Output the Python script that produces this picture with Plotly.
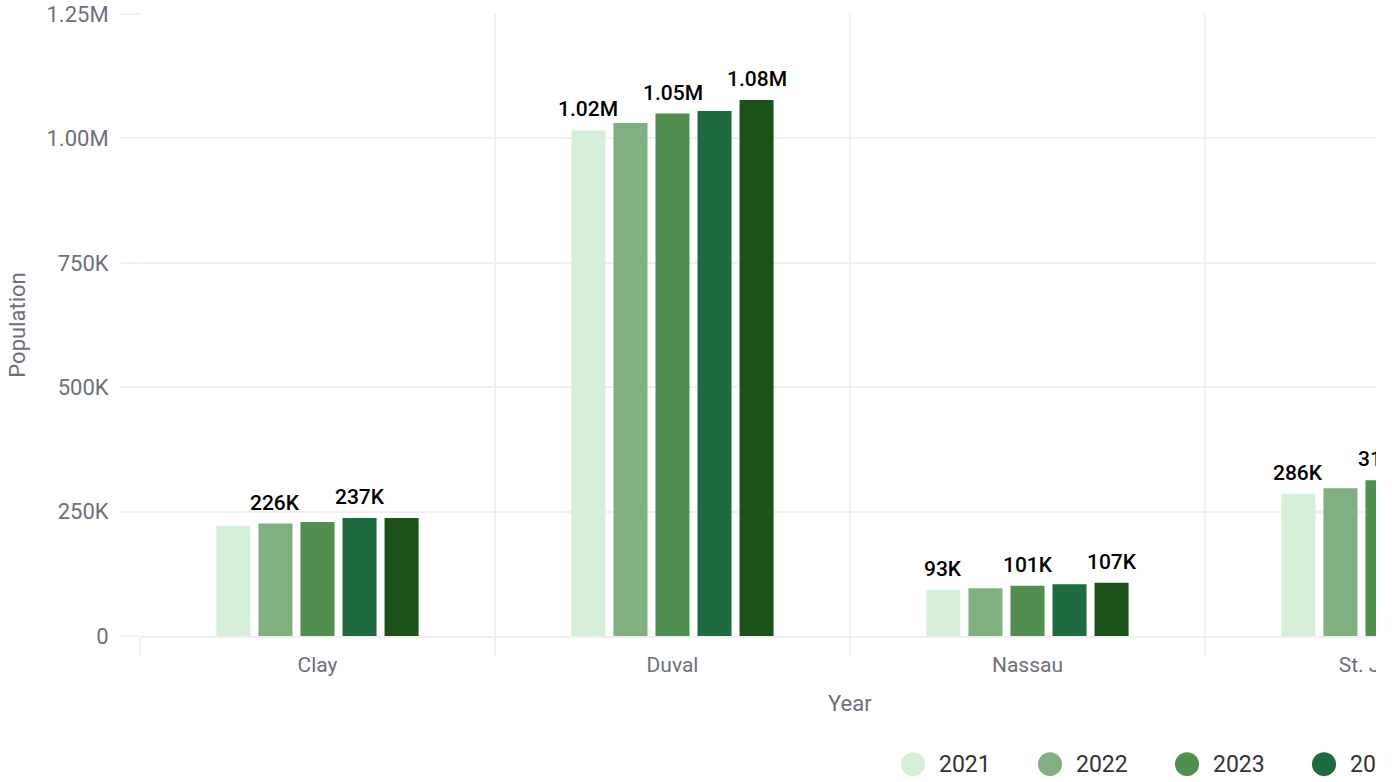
import plotly.graph_objects as go

# ---- data ----
counties = ["Clay", "Duval", "Nassau", "St. Johns"]
years = ["2021", "2022", "2023", "2024", "2025"]
pop_2021 = [221000, 1016000, 93000, 286000]
pop_2022 = [226000, 1031000, 96000, 297000]
pop_2023 = [229000, 1050000, 101000, 313000]
pop_2024 = [237000, 1055000, 104000, 325000]
pop_2025 = [237000, 1077000, 107000, 335000]
# which bars carry a value label (others hidden by label overlap in the original)
label_2021 = [False, True, True, True]
label_2022 = [True, False, False, False]
label_2023 = [False, True, True, True]
label_2024 = [True, False, False, False]
label_2025 = [False, True, True, False]
y_tick_vals = [0, 250000, 500000, 750000, 1000000, 1250000]
y_tick_text = ["0", "250K", "500K", "750K", "1.00M", "1.25M"]

series = [pop_2021, pop_2022, pop_2023, pop_2024, pop_2025]
labels = [label_2021, label_2022, label_2023, label_2024, label_2025]
colors = ["#d5efd9", "#80b082", "#518e50", "#1f6a3e", "#1c521a"]

GRID = "#f0f0f0"
AXIS_TXT = "#6e7079"
BARGAP = 0.408
BARGROUPGAP = 0.19
FIG_W = 1392
FIG_H = 782
VISIBLE_W = 1376   # the original view is cropped on the right
M_L = 140
BAND_PX = 355


def fmt(v):
    if v >= 1_000_000:
        return f"{v / 1_000_000:.2f}M"
    return f"{round(v / 1000)}K"


fig = go.Figure()
for yr, vals, col in zip(years, series, colors):
    fig.add_trace(go.Bar(
        name=yr, x=counties, y=vals, marker=dict(color=col, line=dict(width=0)),
        showlegend=False, hovertemplate="%{x} " + yr + ": %{y:,}<extra></extra>",
    ))

# value labels above selected bars
n = len(years)
slot = (1 - BARGAP) / n
annotations = []
for j, (vals, show) in enumerate(zip(series, labels)):
    for i, (v, s) in enumerate(zip(vals, show)):
        if not s:
            continue
        annotations.append(dict(
            x=i + (j - (n - 1) / 2) * slot, y=v, xref="x", yref="y",
            text=fmt(v), showarrow=False, yanchor="bottom", yshift=7,
            font=dict(family="Roboto", size=21, color="#000000", weight=500),
        ))

# x-axis title centred under the full category span
annotations.append(dict(
    x=(len(counties) - 1) / 2, y=-0.108, xref="x", yref="paper",
    text="Year", showarrow=False, yanchor="middle",
    font=dict(family="Roboto", size=22, color=AXIS_TXT),
))

# legend (circle markers) along the bottom
shapes = []
plot_w = FIG_W - M_L
leg_x0 = (913 - M_L) / plot_w
leg_step = 137 / plot_w
leg_y = -0.206
for k, (yr, col) in enumerate(zip(years, colors)):
    cx = leg_x0 + k * leg_step
    shapes.append(dict(
        type="circle", xref="paper", yref="paper", xsizemode="pixel", ysizemode="pixel",
        xanchor=cx, yanchor=leg_y, x0=-12, x1=12, y0=-12, y1=12,
        fillcolor=col, line=dict(width=0),
    ))
    annotations.append(dict(
        x=cx + 24 / plot_w, y=leg_y, xref="paper", yref="paper", text=yr,
        showarrow=False, xanchor="left", yanchor="middle",
        font=dict(family="Roboto", size=23, color="#333333"),
    ))

fig.update_layout(
    template="none",
    width=FIG_W, height=FIG_H,
    margin=dict(l=M_L, r=0, t=14, b=146, pad=0, autoexpand=False),
    paper_bgcolor="white", plot_bgcolor="white",
    font=dict(family="Roboto", color=AXIS_TXT),
    barmode="group", bargap=BARGAP, bargroupgap=BARGROUPGAP,
    annotations=annotations, shapes=shapes,
    showlegend=False,
)
fig.update_xaxes(
    type="category", categoryorder="array", categoryarray=counties,
    range=[-0.5, -0.5 + plot_w / BAND_PX], automargin=False,
    tickson="boundaries", ticks="outside", ticklen=18, tickwidth=2, tickcolor=GRID,
    showgrid=True, gridcolor=GRID, gridwidth=2,
    showline=True, linecolor=GRID, linewidth=2, mirror=False,
    tickfont=dict(family="Roboto", size=21, color=AXIS_TXT),
    ticklabelstandoff=9,
    fixedrange=True,
)
fig.update_yaxes(
    range=[0, 1250000], tickvals=y_tick_vals, ticktext=y_tick_text, automargin=False,
    ticks="outside", ticklen=18, tickwidth=2, tickcolor=GRID,
    showgrid=True, gridcolor=GRID, gridwidth=2, zeroline=False, showline=False,
    tickfont=dict(family="Roboto", size=22, color=AXIS_TXT),
    ticklabelstandoff=8,
    title=dict(text="Population", font=dict(family="Roboto", size=22, color=AXIS_TXT), standoff=14),
    fixedrange=True,
)

post_js = (
    "document.body.style.margin='0';"
    "document.body.style.overflow='hidden';"
    "var gd=document.getElementById('{plot_id}');"
    "gd.parentElement.style.width='" + str(VISIBLE_W) + "px';"
    "gd.parentElement.style.overflow='hidden';"
)

fig.write_html(
    "out.html",
    config={"displayModeBar": False},
    post_script=post_js,
)
